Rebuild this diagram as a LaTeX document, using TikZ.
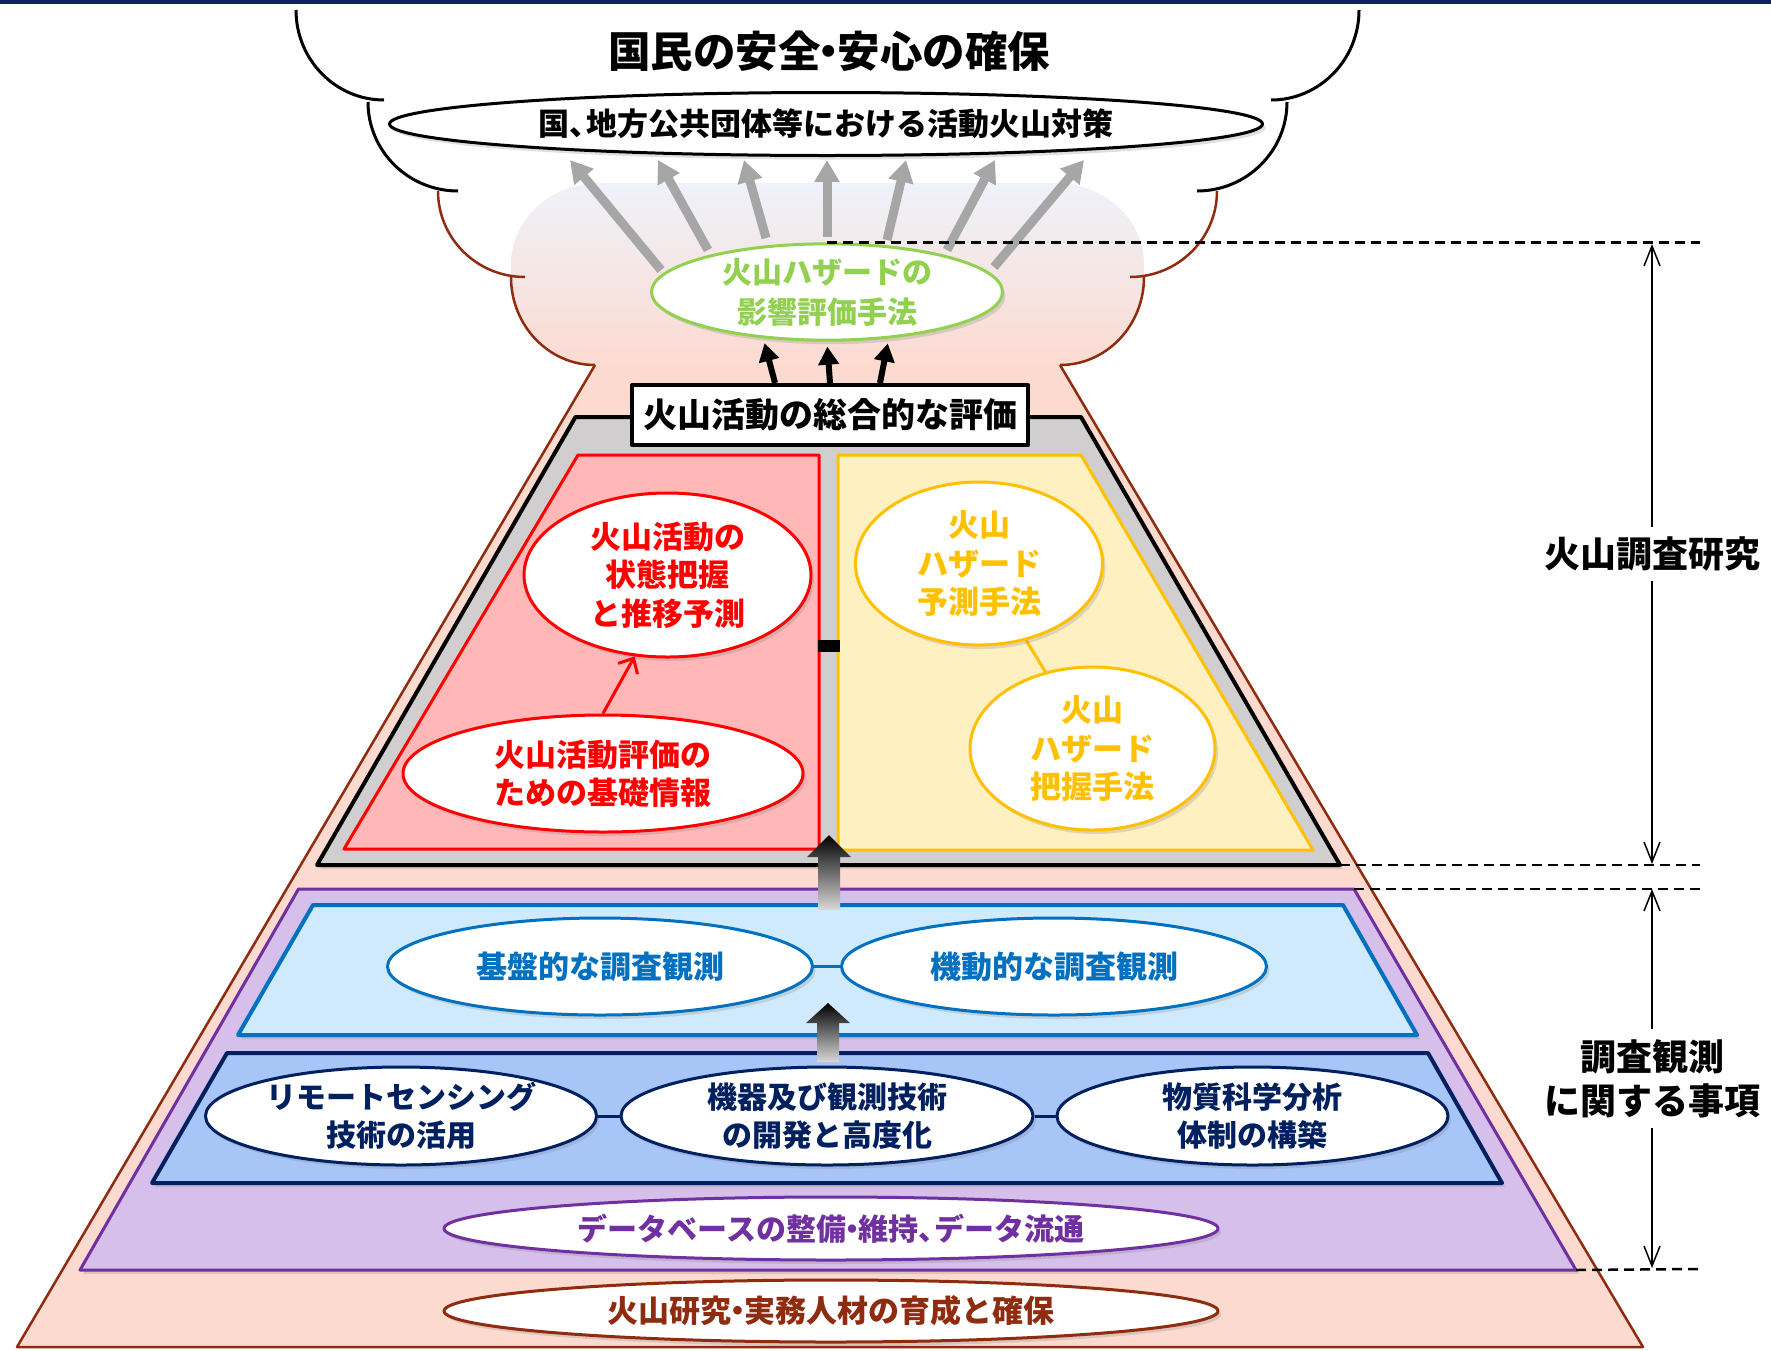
\documentclass[tikz,border=0pt]{standalone}
\usepackage{fontspec}
\setmainfont{Noto Sans CJK JP}
\usetikzlibrary{arrows.meta,shadows,shapes.geometric}
\definecolor{topbar}{HTML}{0F2160}
\definecolor{salmon}{HTML}{FCDAD0}
\definecolor{brn}{HTML}{8F2B0E}
\definecolor{blobtop}{HTML}{EEF2FA}
\definecolor{grayp}{HTML}{D0CECE}
\definecolor{redf}{HTML}{FFB7B7}
\definecolor{yelf}{HTML}{FFF0C2}
\definecolor{yel}{HTML}{FFC000}
\definecolor{grn}{HTML}{92D050}
\definecolor{purf}{HTML}{D6BFEA}
\definecolor{pur}{HTML}{7030A0}
\definecolor{lbf}{HTML}{CFEAFC}
\definecolor{lb}{HTML}{0070C0}
\definecolor{mbf}{HTML}{A8C5F7}
\definecolor{db}{HTML}{002060}
\definecolor{garrow}{HTML}{A6A6A6}
\newcommand{\mdot}{\kern-.3em・\kern-.3em}
\newcommand{\tenn}{、\kern-.45em}
\tikzset{
  sh/.style={drop shadow={shadow xshift=3pt,shadow yshift=-4pt,opacity=0.25}},
  oval/.style={ellipse,draw,fill=white,inner sep=0pt,align=center,sh},
  fA/.style={font=\bfseries\fontsize{31}{38.5}\selectfont},
  fB/.style={font=\bfseries\fontsize{30}{38}\selectfont},
  fR/.style={font=\bfseries\fontsize{36}{44}\selectfont},
  dline/.style={line width=2.5pt,dash pattern=on 10pt off 6pt},
  garr/.style={garrow,line width=9pt,-{Triangle[length=22pt,width=24pt]}},
  barr/.style={black,line width=6pt,-{Triangle[length=18pt,width=20pt]},shorten >=5pt},
  varr/.style={line width=1.5pt,{Straight Barb[length=20pt,width=16pt]}-{Straight Barb[length=20pt,width=16pt]}},
  garrshade/.style={top color=black,middle color=black!80,bottom color=black!15}
}
\begin{document}
\begin{tikzpicture}[x=1pt,y=-1pt,line join=round]
\useasboundingbox (0,0) rectangle (1771,1350);
\fill[white] (0,0) rectangle (1771,1350);
\fill[topbar] (0,0) rectangle (1771,4);

% blob
\shade[top color=blobtop,middle color=salmon,bottom color=salmon]
 (595,366) .. controls (548.6,366) and (511,325.6) .. (511,277)
 -- (511,265) .. controls (511,218) and (552,183) .. (600,183)
 -- (1055,183) .. controls (1103,183) and (1144,218) .. (1144,265)
 -- (1144,277) .. controls (1144,325.6) and (1106.4,366) .. (1060,366) -- cycle;

% pyramid
\fill[salmon] (595,364) -- (1060,364) -- (1643,1347) -- (17,1347) -- cycle;
\draw[brn,line width=2.5pt] (595,365) -- (17,1347) -- (1643,1347) -- (1060,365);

% cloud arcs
\draw[black,line width=3pt] (296,10) .. controls (296,59.7) and (335.4,100) .. (384,100);
\draw[black,line width=3pt] (368,102) .. controls (368,151.1) and (408.3,191) .. (458,191);
\draw[brn,line width=2.5pt] (438,191) .. controls (438,238.5) and (477,277) .. (525,277);
\draw[brn,line width=2.5pt] (511,277) .. controls (511,325.6) and (548.6,365) .. (595,365);
\draw[black,line width=3pt] (1359,10) .. controls (1359,59.7) and (1319.6,100) .. (1271,100);
\draw[black,line width=3pt] (1287,102) .. controls (1287,151.1) and (1246.7,191) .. (1197,191);
\draw[brn,line width=2.5pt] (1217,191) .. controls (1217,238.5) and (1178,277) .. (1130,277);
\draw[brn,line width=2.5pt] (1144,277) .. controls (1144,325.6) and (1106.4,365) .. (1060,365);

% title and top ellipse
\node[font=\bfseries\fontsize{42.5}{50}\selectfont] (title) at (829,51) {国民の安全\mdot 安心の確保};
\node[oval,draw=black,line width=3pt,minimum width=873pt,minimum height=63pt,font=\bfseries\fontsize{31}{36}\selectfont] (tE) at (826,124) {国\tenn 地方公共団体等における活動火山対策};

% green ellipse
\node[oval,draw=grn,line width=3pt,minimum width=351pt,minimum height=93pt,text=grn,font=\bfseries\fontsize{30}{40}\selectfont] (gE) at (827,292) {火山ハザードの\\影響評価手法};

% gray arrows (tails near the green ellipse, tips just below the top ellipse)
\draw[garr] ([shift={(-166pt,22pt)}]gE.center) -- ([shift={(-256pt,-36pt)}]tE.center);
\draw[garr] ([shift={(-119pt,42pt)}]gE.center) -- ([shift={(-168pt,-36pt)}]tE.center);
\draw[garr] ([shift={(-61pt,54pt)}]gE.center) -- ([shift={(-82pt,-36pt)}]tE.center);
\draw[garr] ([shift={(0pt,55pt)}]gE.center) -- ([shift={(1pt,-36pt)}]tE.center);
\draw[garr] ([shift={(60pt,52pt)}]gE.center) -- ([shift={(80pt,-36pt)}]tE.center);
\draw[garr] ([shift={(120pt,42pt)}]gE.center) -- ([shift={(169pt,-36pt)}]tE.center);
\draw[garr] ([shift={(167pt,25pt)}]gE.center) -- ([shift={(258pt,-36pt)}]tE.center);

% gray trapezoid
\draw[line width=4pt,fill=grayp,sh] (575.5,417) -- (1081,417) -- (1340,865) -- (317,865) -- cycle;
\coordinate (gBR) at (1340,865);

% evaluation box
\node[draw,line width=4pt,fill=white,minimum width=396pt,minimum height=60pt,inner sep=0pt,font=\bfseries\fontsize{34}{40}\selectfont] (eval) at (830,415) {火山活動の総合的な評価};
\draw[barr] ([xshift=-55pt]eval.north) -- (gE.216.6);
\draw[barr] (eval.north) -- (gE.south);
\draw[barr] ([xshift=50pt]eval.north) -- (gE.323.9);

% red and yellow panels
\draw[red,line width=3pt,fill=redf] (578,455) -- (819,455) -- (819,849) -- (344,849) -- cycle;
\draw[yel,line width=3pt,fill=yelf] (838,455) -- (1081,455) -- (1313,850) -- (838,850) -- cycle;
\coordinate (rpR) at (818,646);
\coordinate (ypL) at (840,646);
\draw[line width=12pt] (rpR) -- (ypL);

\node[oval,draw=red,line width=3pt,minimum width=287pt,minimum height=164pt,text=red,fA] (r1) at (667.5,575) {火山活動の\\状態把握\\と推移予測};
\node[oval,draw=red,line width=3pt,minimum width=400pt,minimum height=117pt,text=red,fA] (r2) at (603,773.5) {火山活動評価の\\ための基礎情報};
\draw[red,line width=3pt,-{Straight Barb[length=12pt,width=22pt]}] (r2.north) -- (r1.248);

\draw[yel,line width=3pt] (979,563.5) -- (1092.5,748.5);
\node[oval,draw=yel,line width=3pt,minimum width=247pt,minimum height=163pt,text=yel,fA] (y1) at (979,563.5) {火山\\ハザード\\予測手法};
\node[oval,draw=yel,line width=3pt,minimum width=245pt,minimum height=163pt,text=yel,fA] (y2) at (1092.5,748.5) {火山\\ハザード\\把握手法};

% lower layers
\draw[pur,line width=3pt,fill=purf,sh] (298.5,889) -- (1354,889) -- (1576,1270) -- (80,1270) -- cycle;
\coordinate (pTR) at (1354,889);
\coordinate (pBR) at (1576,1270);
\draw[lb,line width=4pt,fill=lbf,sh] (313,905) -- (1343,905) -- (1417,1035) -- (238,1035) -- cycle;
\draw[db,line width=4pt,fill=mbf,sh] (227,1053) -- (1428,1053) -- (1502,1183) -- (152,1183) -- cycle;

% gradient arrows
\coordinate (a1t) at (829,835);
\shade[garrshade] (a1t) -- ++(22,22) -- ++(-11,0) -- ++(0,53) -- ++(-22,0) -- ++(0,-53) -- ++(-11,0) -- cycle;
\coordinate (a2t) at (828,1003);
\shade[garrshade] (a2t) -- ++(22,20) -- ++(-11,0) -- ++(0,39) -- ++(-22,0) -- ++(0,-39) -- ++(-11,0) -- cycle;

\node[oval,draw=lb,line width=3pt,minimum width=425pt,minimum height=97pt,text=lb,fA] (b1) at (600,966.5) {基盤的な調査観測};
\node[oval,draw=lb,line width=3pt,minimum width=425pt,minimum height=97pt,text=lb,fA] (b2) at (1054,966.5) {機動的な調査観測};
\draw[lb,line width=3pt] (b1) -- (b2);

\node[oval,draw=db,line width=3pt,minimum width=391pt,minimum height=98pt,text=db,fB] (d1) at (401,1116) {リモートセンシング\\技術の活用};
\node[oval,draw=db,line width=3pt,minimum width=412pt,minimum height=98pt,text=db,fB] (d2) at (827,1116) {機器及び観測技術\\の開発と高度化};
\node[oval,draw=db,line width=3pt,minimum width=391pt,minimum height=98pt,text=db,fB] (d3) at (1252.5,1116) {物質科学分析\\体制の構築};
\draw[db,line width=3pt] (d1) -- (d2);
\draw[db,line width=3pt] (d2) -- (d3);

\node[oval,draw=pur,line width=3pt,minimum width=774pt,minimum height=63pt,text=pur,fB] (p1) at (831,1228.5) {データベースの整備\mdot 維持\tenn データ流通};
\node[oval,draw=brn,line width=3pt,minimum width=774pt,minimum height=62pt,text=brn,font=\bfseries\fontsize{31}{38}\selectfont] (br1) at (831,1311) {火山研究\mdot 実務人材の育成と確保};

% right annotations
\coordinate (dR1) at (1700,244);
\coordinate (dR2) at (1700,865);
\coordinate (dR3) at (1700,889);
\coordinate (dR4) at (1700,1269);
\draw[dline] (gE.north) -- (gE.north -| dR1);
\draw[dline] (gBR) -- (dR2);
\draw[dline] (pTR) -- (dR3);
\draw[dline] (pBR) -- (dR4);

\coordinate (v1a) at (1652,244);
\coordinate (v1b) at (1652,864);
\coordinate (v2a) at (1652,889);
\coordinate (v2b) at (1652,1268);
\draw[varr] (v1a) -- (v1b) node[midway,fill=white,inner sep=10pt,fR] (lab1) {火山調査研究};
\draw[varr] (v2a) -- (v2b) node[midway,fill=white,inner sep=10pt,fR,align=center] (lab2) {調査観測\\に関する事項};
\end{tikzpicture}
\end{document}
